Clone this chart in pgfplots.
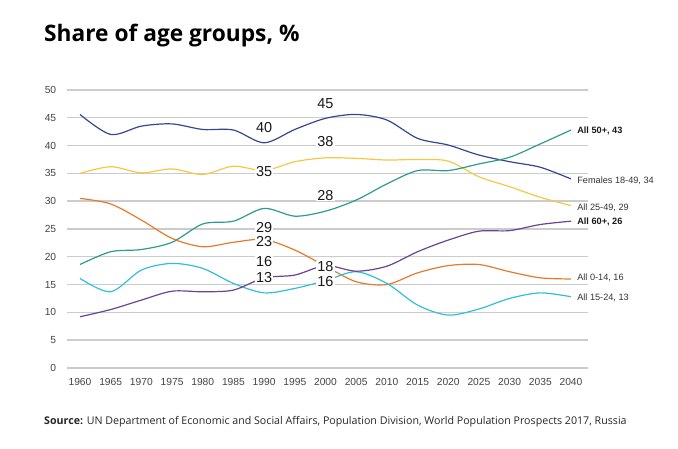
\documentclass[border=0pt]{standalone}
\usepackage{fontspec}
\setmainfont{Liberation Sans}
\newfontfamily\osans{Open Sans}
\usepackage{pgfplots}
\pgfplotsset{compat=1.18}
\definecolor{cnavy}{HTML}{34478F}
\definecolor{cyel}{HTML}{F5C842}
\definecolor{cteal}{HTML}{2A9D8F}
\definecolor{corange}{HTML}{E8792B}
\definecolor{ccyan}{HTML}{2FC0D8}
\definecolor{cpurp}{HTML}{6A4393}
\definecolor{cgrid}{HTML}{CCCCCC}
\definecolor{ctick}{HTML}{444444}
\begin{document}
\begin{tikzpicture}
\path (0,0) rectangle (678bp,449bp);
\node[anchor=base west, inner sep=0] at (44bp,407bp) {\osans\bfseries\fontsize{22.8}{26}\selectfont Share of age groups, \%};
\node[anchor=base west, inner sep=0, text=black!85] at (44bp,25bp) {\osans\fontsize{10.7}{13}\selectfont\textbf{Source:} UN Department of Economic and Social Affairs, Population Division, World Population Prospects 2017, Russia};
\begin{axis}[
  at={(66.7bp,81.1bp)}, anchor=south west,
  scale only axis, width=521.3bp, height=277.9bp,
  xmin=1957.833, xmax=2042.77, ymin=0, ymax=50,
  xtick={1960,1965,...,2040}, ytick={0,5,...,50},
  xticklabel style={/pgf/number format/1000 sep={}, font=\fontsize{10.3}{12}\selectfont, text=ctick, yshift=-6.5bp},
  yticklabel style={font=\fontsize{10.3}{12}\selectfont, text=ctick, xshift=-7bp},
  /pgf/number format/assume math mode=true,
  axis line style={draw=none}, major tick length=0,
  ymajorgrids, major grid style={cgrid, line width=1.4bp},
  clip=false,
  every axis plot/.append style={smooth, tension=0.5, line width=1.2bp, no marks},
]
% Females 18-49
\addplot[cnavy] coordinates {(1960,45.6)(1965,42.0)(1970,43.5)(1975,43.9)(1980,42.9)(1985,42.8)(1990,40.5)(1995,42.9)(2000,44.9)(2005,45.6)(2010,44.6)(2015,41.3)(2020,40.1)(2025,38.3)(2030,37.1)(2035,36.1)(2040,34.0)};
% All 25-49
\addplot[cyel] coordinates {(1960,35.0)(1965,36.2)(1970,35.1)(1975,35.8)(1980,34.8)(1985,36.3)(1990,35.5)(1995,37.1)(2000,37.8)(2005,37.7)(2010,37.4)(2015,37.5)(2020,37.2)(2025,34.4)(2030,32.6)(2035,30.7)(2040,29.2)};
% All 50+
\addplot[cteal] coordinates {(1960,18.6)(1965,20.9)(1970,21.3)(1975,22.6)(1980,25.9)(1985,26.4)(1990,28.7)(1995,27.3)(2000,28.2)(2005,30.2)(2010,33.1)(2015,35.5)(2020,35.5)(2025,36.7)(2030,37.9)(2035,40.3)(2040,42.8)};
% All 0-14
\addplot[corange] coordinates {(1960,30.5)(1965,29.5)(1970,26.6)(1975,23.3)(1980,21.8)(1985,22.6)(1990,23.1)(1995,21.2)(2000,18.3)(2005,15.5)(2010,15.0)(2015,17.1)(2020,18.4)(2025,18.6)(2030,17.3)(2035,16.2)(2040,16.0)};
% All 15-24
\addplot[ccyan] coordinates {(1960,16.1)(1965,13.7)(1970,17.6)(1975,18.8)(1980,17.9)(1985,15.2)(1990,13.5)(1995,14.3)(2000,15.7)(2005,17.3)(2010,15.2)(2015,11.3)(2020,9.5)(2025,10.6)(2030,12.5)(2035,13.5)(2040,12.8)};
% All 60+
\addplot[cpurp] coordinates {(1960,9.2)(1965,10.5)(1970,12.2)(1975,13.8)(1980,13.7)(1985,14.0)(1990,16.2)(1995,16.7)(2000,18.4)(2005,17.4)(2010,18.3)(2015,20.9)(2020,23.0)(2025,24.6)(2030,24.7)(2035,25.8)(2040,26.4)};
% value labels
\tikzset{vl/.style={fill=white, inner sep=1bp, font=\fontsize{14.5}{16}\selectfont, text=black!90}}
\node[vl] at (axis cs:2000,47.5) {45};
\node[vl] at (axis cs:1990,43.3) {40};
\node[vl] at (axis cs:2000,40.7) {38};
\node[vl] at (axis cs:1990,35.4) {35};
\node[vl] at (axis cs:2000,31.1) {28};
\node[vl] at (axis cs:1990,25.2) {29};
\node[vl] at (axis cs:1990,22.7) {23};
\node[vl] at (axis cs:1990,19.1) {16};
\node[vl] at (axis cs:1990,16.2) {13};
\node[vl] at (axis cs:2000,18.2) {18};
\node[vl] at (axis cs:2000,15.5) {16};
% end labels
\tikzset{el/.style={anchor=west, inner sep=0, font=\fontsize{9.2}{11}\selectfont, text=black!80}}
\node[el, font=\fontsize{9.2}{11}\selectfont\bfseries, text=black!90] at (axis cs:2041,42.7) {All 50+, 43};
\node[el] at (axis cs:2041,33.7) {Females 18-49, 34};
\node[el] at (axis cs:2041,28.9) {All 25-49, 29};
\node[el, font=\fontsize{9.2}{11}\selectfont\bfseries, text=black!90] at (axis cs:2041,26.3) {All 60+, 26};
\node[el] at (axis cs:2041,16.3) {All 0-14, 16};
\node[el] at (axis cs:2041,12.7) {All 15-24, 13};
\end{axis}
\end{tikzpicture}
\end{document}
